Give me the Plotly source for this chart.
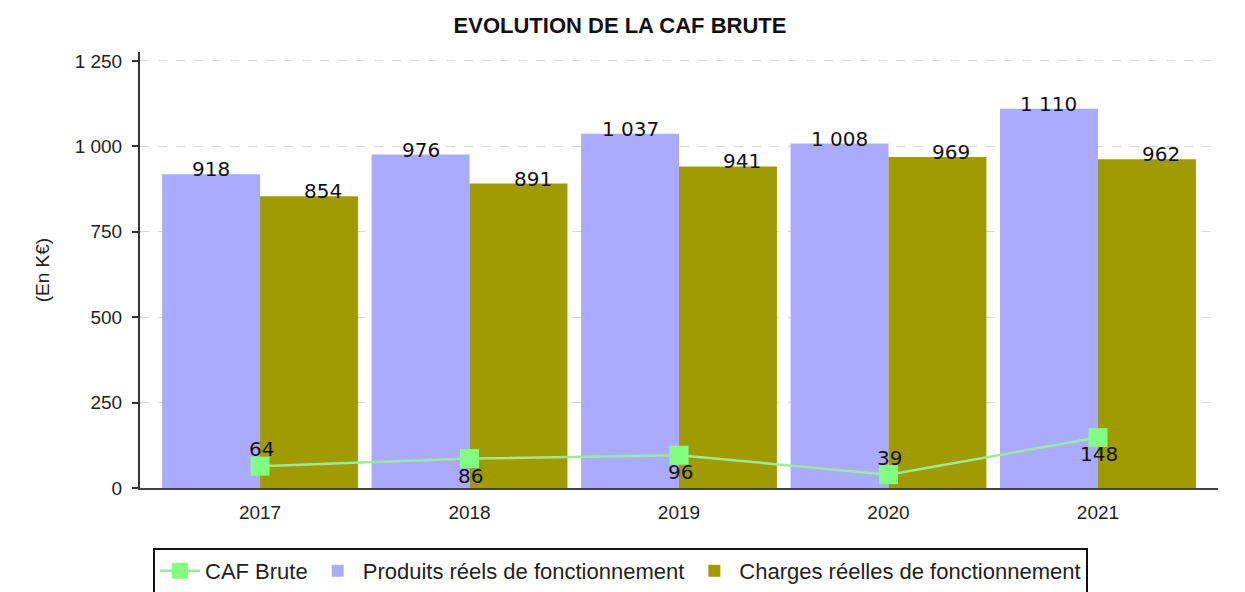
import plotly.graph_objects as go

years = ["2017", "2018", "2019", "2020", "2021"]
produits = [918, 976, 1037, 1008, 1110]
charges = [854, 891, 941, 969, 962]
caf = [64, 86, 96, 39, 148]
caf_label_side = [1, -1, -1, 1, -1]  # 1 = label above point, -1 = below

def fmt(v):
    return f"{v:,}".replace(",", " ")

PURPLE = "#aaaaff"
OLIVE = "#a09b00"
GREEN = "#80ff80"
LABEL_FONT = dict(family="DejaVu Sans", size=20, color="#111111")

# the page body adds an 8px offset, so the figure is sized to fit inside the window
W, H = 1237, 584

fig = go.Figure()

fig.add_trace(go.Scatter(
    x=years, y=caf, name="CAF Brute", mode="lines+markers",
    line=dict(color="#9aec9a", width=2.5),
    marker=dict(symbol="square", size=19, color=GREEN),
    cliponaxis=False,
))
fig.add_trace(go.Bar(x=years, y=produits, name="Produits réels de fonctionnement",
                     marker=dict(color=PURPLE, line=dict(width=0))))
fig.add_trace(go.Bar(x=years, y=charges, name="Charges réelles de fonctionnement",
                     marker=dict(color=OLIVE, line=dict(width=0))))

annotations = []
for i, (p, c, k, side) in enumerate(zip(produits, charges, caf, caf_label_side)):
    annotations.append(dict(x=i, y=p, text=fmt(p), showarrow=False, xref="x", yref="y",
                            xshift=-49, yshift=5, yanchor="middle", font=LABEL_FONT))
    annotations.append(dict(x=i, y=c, text=fmt(c), showarrow=False, xref="x", yref="y",
                            xshift=63, yshift=5, yanchor="middle", font=LABEL_FONT))
    annotations.append(dict(x=i, y=k, text=fmt(k), showarrow=False, xref="x", yref="y",
                            xshift=1, yshift=17 * side, yanchor="middle", font=LABEL_FONT))

fig.update_layout(
    width=W, height=H,
    margin=dict(l=132, r=27, t=44, b=104, autoexpand=False),
    paper_bgcolor="white", plot_bgcolor="white",
    barmode="group", bargap=0.065, bargroupgap=0,
    separators=", ",
    font=dict(family="Liberation Sans, Arial, sans-serif", size=20, color="#222222"),
    title=dict(text="<b>EVOLUTION DE LA CAF BRUTE</b>", x=612 / W, xref="container", xanchor="center",
               y=1 - 17 / H, yref="container", yanchor="middle",
               font=dict(family="Liberation Sans, Arial, sans-serif", size=22, color="#111111")),
    xaxis=dict(type="category", range=[-0.573, 4.573], showgrid=False, automargin=False,
               showline=True, linecolor="#444444", linewidth=1.5,
               ticks="", ticklabelstandoff=6, tickfont=dict(size=19, color="#222222")),
    yaxis=dict(range=[0, 1276], tickvals=[0, 250, 500, 750, 1000, 1250], automargin=False,
               tickformat=",d", showgrid=True, gridcolor="#d8d8d8", griddash="dash", gridwidth=1,
               showline=True, linecolor="#333333", linewidth=2,
               ticks="outside", ticklen=6, tickcolor="#333333", tickwidth=1.5,
               ticklabelstandoff=6, zeroline=False,
               tickfont=dict(size=19, color="#222222"),
               title=dict(text="(En K€)", standoff=20, font=dict(size=19, color="#222222"))),
    legend=dict(orientation="h", x=13 / 1078, xanchor="left", y=-60 / 436, yanchor="top",
                bordercolor="#111111", borderwidth=2, bgcolor="white",
                font=dict(size=22, color="#222222"), itemwidth=40,
                traceorder="normal"),
    annotations=annotations,
)

fig.write_html("out.html")
